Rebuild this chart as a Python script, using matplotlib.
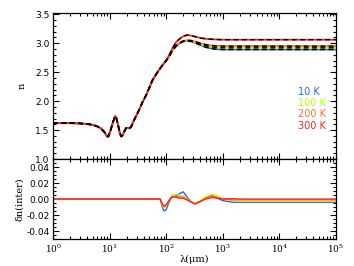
import matplotlib
matplotlib.use("Agg")
import matplotlib.pyplot as plt
from matplotlib.ticker import MultipleLocator, LogLocator, NullFormatter

# wavelength grid (micron) where all temperatures coincide
lam_short = [1, 2, 3, 4, 5, 6, 7, 8, 9, 9.5, 10, 11, 12, 12.5, 13, 14, 15, 16, 17, 18,
             19.5, 21, 22.5, 24, 26, 30, 35, 38, 45, 57, 70, 86, 100]
n_short = [1.62, 1.62, 1.615, 1.605, 1.59, 1.565, 1.53, 1.47, 1.39, 1.39, 1.45, 1.58, 1.70,
           1.74, 1.72, 1.60, 1.46, 1.39, 1.41, 1.47, 1.535, 1.54, 1.53, 1.56, 1.64, 1.76,
           1.90, 1.98, 2.12, 2.36, 2.50, 2.62, 2.70]

# longer wavelengths, one curve per temperature
lam_long = [115, 130, 150, 175, 200, 235, 280, 330, 400, 500, 700, 1000, 1e4, 1e5]
n_10K = [2.79, 2.88, 2.95, 3.00, 3.03, 3.04, 3.03, 3.00, 2.97, 2.93, 2.90, 2.89, 2.89, 2.89]
n_100K = [2.79, 2.88, 2.95, 3.00, 3.035, 3.045, 3.035, 3.01, 2.985, 2.955, 2.93, 2.92, 2.92, 2.92]
n_200K = [2.79, 2.89, 2.96, 3.01, 3.04, 3.05, 3.045, 3.025, 3.00, 2.975, 2.955, 2.95, 2.95, 2.95]
n_300K = [2.81, 2.92, 3.02, 3.08, 3.12, 3.14, 3.13, 3.11, 3.09, 3.075, 3.065, 3.06, 3.06, 3.06]

# delta n (inter)
lam_dn = [1, 70, 78, 85, 92, 100, 115, 127, 150, 175, 200, 230, 280, 325, 400, 500, 650,
          800, 1000, 1500, 2000, 1e5]
dn_10K = [0, 0, 0, -0.010, -0.015, -0.013, -0.002, 0.003, 0.004, 0.007, 0.009, 0.003,
          -0.004, -0.006, -0.003, 0.002, 0.004, 0.001, -0.002, -0.004, -0.004, -0.004]
dn_100K = [0, 0, 0, -0.008, -0.011, -0.009, 0.000, 0.005, 0.006, 0.004, 0.004, 0.001,
           -0.004, -0.006, -0.002, 0.003, 0.006, 0.004, 0.000, -0.002, -0.0025, -0.0025]
dn_200K = [0, 0, 0, -0.007, -0.009, -0.008, -0.001, 0.003, 0.003, 0.003, 0.002, 0.000,
           -0.004, -0.006, -0.003, 0.001, 0.004, 0.002, 0.000, -0.001, -0.001, -0.001]
dn_300K = [0, 0, 0, -0.006, -0.009, -0.007, -0.001, 0.003, 0.002, 0.001, 0.001, -0.001,
           -0.004, -0.006, -0.003, 0.000, 0.002, 0.001, 0.000, 0.0005, 0.000, 0.000]

labels = ["10 K", "100 K", "200 K", "300 K"]
colors = ["#2462ff", "#bfff00", "#ff7035", "#ff2424"]

plt.rcParams["mathtext.fontset"] = "dejavuserif"

fig = plt.figure(figsize=(3.54, 2.66), dpi=100)
ax1 = fig.add_axes([0.150, 0.402, 0.799, 0.549])
ax2 = fig.add_axes([0.150, 0.1015, 0.799, 0.3005])

lam = lam_short + lam_long
for n_long, c in zip([n_10K, n_100K, n_200K, n_300K], colors):
    ax1.plot(lam, n_short + n_long, color=c, lw=1.3)
for n_long in [n_10K, n_100K, n_200K, n_300K]:
    ax1.plot(lam, n_short + n_long, color="black", lw=1.0, ls=(0, (3.5, 2.5)))

for dn, c in zip([dn_10K, dn_100K, dn_200K, dn_300K], colors):
    ax2.plot(lam_dn, dn, color=c, lw=1.0)

ypos = [0.461, 0.385, 0.31, 0.228]
for lab, c, y in zip(labels, colors, ypos):
    ax1.text(0.865, y, lab, color=c, fontsize=7, transform=ax1.transAxes,
             va="center", ha="left")

for ax in (ax1, ax2):
    ax.set_xscale("log")
    ax.set_xlim(1, 1e5)
    ax.xaxis.set_major_locator(LogLocator(base=10, numticks=10))
    ax.xaxis.set_minor_locator(LogLocator(base=10, subs=range(2, 10), numticks=10))
    ax.xaxis.set_minor_formatter(NullFormatter())
    ax.tick_params(which="both", direction="in", top=True, right=True, width=0.8,
                   labelsize=6.5, pad=2.5)
    ax.tick_params(which="major", length=4)
    ax.tick_params(which="minor", length=2)
    for s in ax.spines.values():
        s.set_linewidth(0.9)

ax1.set_ylim(1.0, 3.52)
ax1.yaxis.set_major_locator(MultipleLocator(0.5))
ax1.yaxis.set_minor_locator(MultipleLocator(0.1))
ax1.yaxis.set_major_formatter(plt.FormatStrFormatter("%.1f"))
ax1.tick_params(labelbottom=False)
ax1.set_ylabel("n", family="DejaVu Serif", fontsize=7, labelpad=6)

ax2.set_ylim(-0.05, 0.05)
ax2.yaxis.set_major_locator(MultipleLocator(0.02))
ax2.yaxis.set_minor_locator(MultipleLocator(0.005))
ax2.yaxis.set_major_formatter(plt.FormatStrFormatter("%.2f"))
ax2.set_ylabel("δn(inter)", family="DejaVu Serif", fontsize=7, labelpad=2)
ax2.set_xticks([1, 10, 100, 1e3, 1e4, 1e5])
ax2.set_xticklabels(["$10^{%d}$" % i for i in range(6)])
ax2.set_xlabel("λ(μm)", family="DejaVu Serif", fontsize=7, labelpad=0)

fig.savefig("out.png", dpi=100)
